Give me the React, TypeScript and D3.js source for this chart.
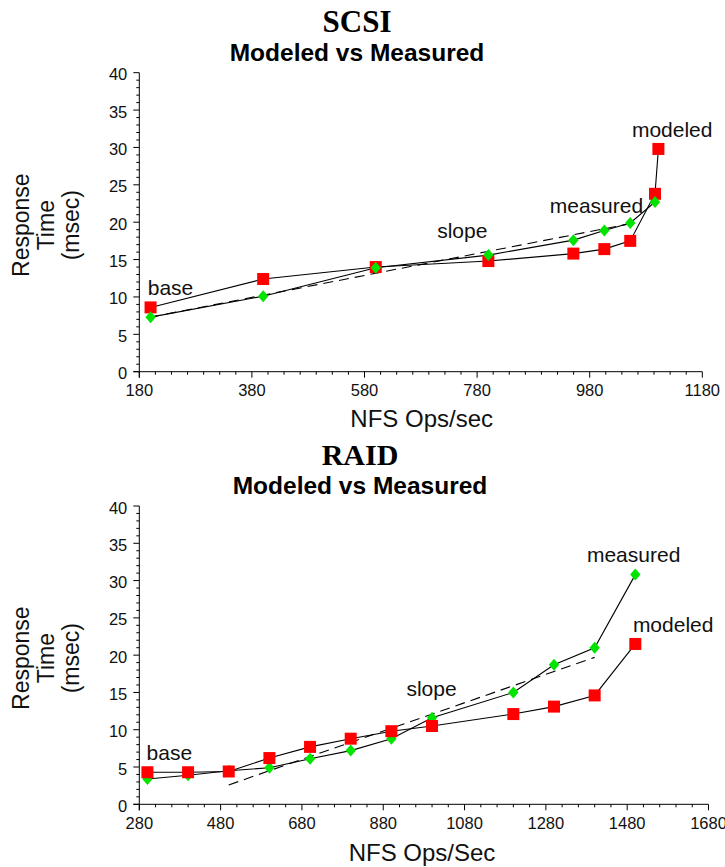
import React from "react";
import * as d3 from "d3";

// ---------- SCSI data ----------
const scsiModeledX = [200, 400, 600, 800, 951, 1006, 1052, 1096, 1102];
const scsiModeledY = [8.6, 12.4, 14.0, 14.8, 15.8, 16.4, 17.5, 23.8, 29.8];
const scsiMeasuredX = [200, 400, 600, 800, 951, 1006, 1052, 1096];
const scsiMeasuredY = [7.3, 10.1, 13.9, 15.6, 17.6, 18.9, 19.9, 22.7];
const scsiSlopeX = [200, 1052];
const scsiSlopeY = [7.3, 19.8];
const scsiXTicks = [180, 380, 580, 780, 980, 1180];
const scsiLabelText = ["base", "slope", "measured", "modeled"];
const scsiLabelX = [195, 709, 909, 1055];
const scsiLabelY = [10.3, 17.85, 21.2, 31.4];

// ---------- RAID data ----------
const raidX = [300, 400, 500, 600, 700, 800, 900, 1000, 1200, 1300, 1400, 1500];
const raidModeledY = [4.3, 4.3, 4.4, 6.2, 7.7, 8.8, 9.8, 10.5, 12.1, 13.1, 14.6, 21.5];
const raidMeasuredY = [3.4, 3.9, 4.5, 4.9, 6.1, 7.2, 8.8, 11.6, 15.0, 18.7, 21.0, 30.8];
const raidSlopeX = [500, 1400];
const raidSlopeY = [2.6, 19.7];
const raidXTicks = [280, 480, 680, 880, 1080, 1280, 1480, 1680];
const raidLabelText = ["base", "slope", "measured", "modeled"];
const raidLabelX = [298, 937, 1381, 1494];
const raidLabelY = [5.9, 14.5, 32.5, 23.1];

const yTicks = [0, 5, 10, 15, 20, 25, 30, 35, 40];

const SANS = "'Liberation Sans', Arial, sans-serif";
const SERIF = "'Liberation Serif', 'Times New Roman', serif";
const RED = "#ff0000";
const GREEN = "#00e400";

type ChartProps = {
  title: string;
  subtitle: string;
  xLabel: string;
  xDomain: [number, number];
  xRange: [number, number];
  yRange: [number, number];
  xTicks: number[];
  xMinorPerMajor: number;
  modeledX: number[];
  modeledY: number[];
  measuredX: number[];
  measuredY: number[];
  slopeX: number[];
  slopeY: number[];
  labelText: string[];
  labelX: number[];
  labelY: number[];
  titleY: number;
  subtitleY: number;
  titleX: number;
  xLabelY: number;
  xLabelX: number;
  titleSize: number;
  measuredOnTop: boolean;
};

function Chart(p: ChartProps) {
  const x = d3.scaleLinear().domain(p.xDomain).range(p.xRange);
  const y = d3.scaleLinear().domain([0, 40]).range(p.yRange);
  const x0 = p.xRange[0];
  const y0 = p.yRange[0];
  const line = d3
    .line<[number, number]>()
    .x((d) => x(d[0]))
    .y((d) => y(d[1]));
  const zip = (a: number[], b: number[]) => a.map((v, i) => [v, b[i]] as [number, number]);

  const majorStep = p.xTicks[1] - p.xTicks[0];
  const minorX: number[] = [];
  for (let i = 0; i < p.xTicks.length - 1; i++) {
    for (let k = 1; k < p.xMinorPerMajor; k++) {
      minorX.push(p.xTicks[i] + (majorStep * k) / p.xMinorPerMajor);
    }
  }
  const minorY = d3.range(0, 41, 1).filter((v) => v % 5 !== 0);

  const sq = 12;
  const squares = (
    <g>
      {p.modeledX.map((vx, i) => (
        <rect
          key={"s" + i}
          x={x(vx) - sq / 2}
          y={y(p.modeledY[i]) - sq / 2}
          width={sq}
          height={sq}
          fill={RED}
        />
      ))}
    </g>
  );
  const diamonds = (
    <g>
      {p.measuredX.map((vx, i) => {
        const cx = x(vx);
        const cy = y(p.measuredY[i]);
        return (
          <path
            key={"d" + i}
            d={`M${cx},${cy - 6}L${cx + 5.2},${cy}L${cx},${cy + 6}L${cx - 5.2},${cy}Z`}
            fill={GREEN}
          />
        );
      })}
    </g>
  );

  return (
    <g>
      <text
        x={p.titleX}
        y={p.titleY}
        textAnchor="middle"
        fontFamily={SERIF}
        fontWeight="bold"
        fontSize={p.titleSize}
      >
        {p.title}
      </text>
      <text
        x={p.titleX}
        y={p.subtitleY}
        textAnchor="middle"
        fontFamily={SANS}
        fontWeight="bold"
        fontSize={24.5}
      >
        {p.subtitle}
      </text>

      {/* Y axis */}
      <line x1={x0} x2={x0} y1={y(40)} y2={y0 + 6} stroke="#000" strokeWidth={1} />
      {yTicks.map((t) => (
        <g key={"yt" + t}>
          <line x1={x0 - 6} x2={x0} y1={y(t)} y2={y(t)} stroke="#000" strokeWidth={1} />
          <text
            x={x0 - 12}
            y={y(t) + 7.5}
            textAnchor="end"
            fontFamily={SANS}
            fontSize={16.5}
            fill="#111"
          >
            {t}
          </text>
        </g>
      ))}
      {minorY.map((t) => (
        <line key={"ym" + t} x1={x0 - 3} x2={x0} y1={y(t)} y2={y(t)} stroke="#000" strokeWidth={1} />
      ))}

      {/* X axis */}
      <line x1={x0 - 6} x2={p.xRange[1]} y1={y0} y2={y0} stroke="#000" strokeWidth={1} />
      {p.xTicks.map((t) => (
        <g key={"xt" + t}>
          <line x1={x(t)} x2={x(t)} y1={y0} y2={y0 + 6} stroke="#000" strokeWidth={1} />
          <text
            x={x(t)}
            y={y0 + 24.5}
            textAnchor="middle"
            fontFamily={SANS}
            fontSize={16.5}
            fill="#111"
          >
            {t}
          </text>
        </g>
      ))}
      {minorX.map((t, i) => (
        <line key={"xm" + i} x1={x(t)} x2={x(t)} y1={y0} y2={y0 + 3} stroke="#000" strokeWidth={1} />
      ))}

      {/* axis titles */}
      <g
        transform={`translate(${x0 - 85},${(y(40) + y0) / 2 + 3}) rotate(-90)`}
        fontFamily={SANS}
        fontSize={23}
        fill="#111"
        textAnchor="middle"
      >
        <text x={0} y={-25}>Response</text>
        <text x={0} y={0}>Time</text>
        <text x={0} y={25}>(msec)</text>
      </g>
      <text
        x={p.xLabelX}
        y={p.xLabelY}
        textAnchor="middle"
        fontFamily={SANS}
        fontSize={24}
        fill="#111"
      >
        {p.xLabel}
      </text>

      {/* series lines */}
      <path
        d={line(zip(p.slopeX, p.slopeY)) || ""}
        fill="none"
        stroke="#000"
        strokeWidth={1.1}
        strokeDasharray="10,6"
      />
      <path d={line(zip(p.modeledX, p.modeledY)) || ""} fill="none" stroke="#000" strokeWidth={1.1} />
      <path d={line(zip(p.measuredX, p.measuredY)) || ""} fill="none" stroke="#000" strokeWidth={1.1} />

      {p.measuredOnTop ? (
        <g>
          {squares}
          {diamonds}
        </g>
      ) : (
        <g>
          {diamonds}
          {squares}
        </g>
      )}

      {/* annotations */}
      {p.labelText.map((s, i) => (
        <text
          key={"lb" + i}
          x={x(p.labelX[i])}
          y={y(p.labelY[i])}
          fontFamily={SANS}
          fontSize={21}
          fill="#111"
        >
          {s}
        </text>
      ))}
    </g>
  );
}

export default function App() {
  return (
    <svg
      width={725}
      height={867}
      viewBox="0 0 725 867"
      style={{ position: "absolute", left: 0, top: 0, background: "#fff" }}
    >
      <rect x={0} y={0} width={725} height={867} fill="#fff" />
      <Chart
        title="SCSI"
        subtitle="Modeled vs Measured"
        xLabel="NFS Ops/sec"
        xDomain={[180, 1180]}
        xRange={[139.3, 702.3]}
        yRange={[371.7, 72.7]}
        xTicks={scsiXTicks}
        xMinorPerMajor={7}
        modeledX={scsiModeledX}
        modeledY={scsiModeledY}
        measuredX={scsiMeasuredX}
        measuredY={scsiMeasuredY}
        slopeX={scsiSlopeX}
        slopeY={scsiSlopeY}
        labelText={scsiLabelText}
        labelX={scsiLabelX}
        labelY={scsiLabelY}
        titleX={357}
        titleY={31.7}
        subtitleY={60.5}
        titleSize={31}
        xLabelX={421.7}
        xLabelY={426.7}
        measuredOnTop={true}
      />
      <Chart
        title="RAID"
        subtitle="Modeled vs Measured"
        xLabel="NFS Ops/Sec"
        xDomain={[280, 1680]}
        xRange={[139.3, 708.5]}
        yRange={[804.3, 506]}
        xTicks={raidXTicks}
        xMinorPerMajor={5}
        modeledX={raidX}
        modeledY={raidModeledY}
        measuredX={raidX}
        measuredY={raidMeasuredY}
        slopeX={raidSlopeX}
        slopeY={raidSlopeY}
        labelText={raidLabelText}
        labelX={raidLabelX}
        labelY={raidLabelY}
        titleX={360}
        titleY={465}
        subtitleY={493.5}
        titleSize={30}
        xLabelX={422}
        xLabelY={861}
        measuredOnTop={false}
      />
    </svg>
  );
}
